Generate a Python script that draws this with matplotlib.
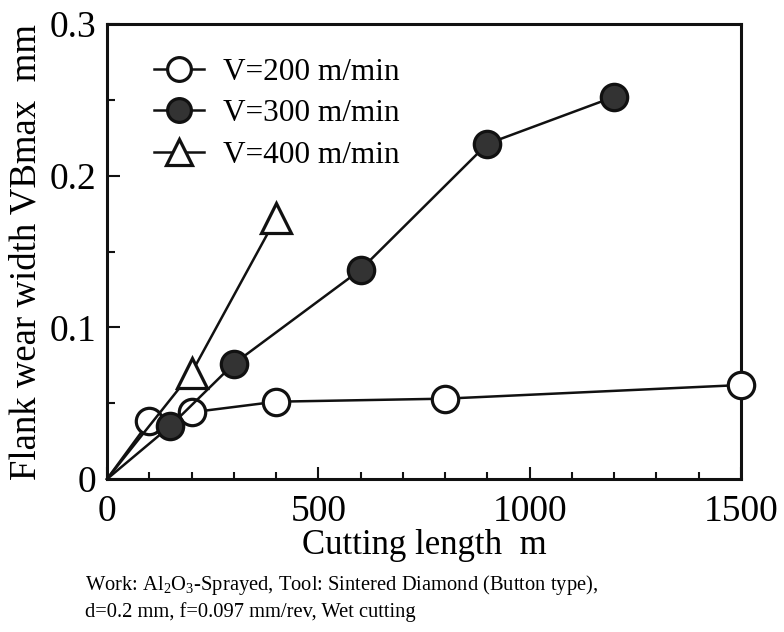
import matplotlib
matplotlib.use('Agg')
import matplotlib.pyplot as plt
from matplotlib.ticker import MultipleLocator, FuncFormatter

plt.rcParams['font.family'] = ['Liberation Serif', 'DejaVu Serif']
plt.rcParams['mathtext.fontset'] = 'custom'
plt.rcParams['mathtext.rm'] = 'Liberation Serif'

# Cutting length (m) and flank wear width VBmax (mm), origin included
x_200 = [0, 100, 200, 400, 800, 1500]
y_200 = [0, 0.038, 0.044, 0.051, 0.053, 0.062]
x_300 = [0, 150, 300, 600, 900, 1200]
y_300 = [0, 0.035, 0.076, 0.138, 0.221, 0.252]
x_400 = [0, 200, 400]
y_400 = [0, 0.070, 0.172]
labels = ['V=200 m/min', 'V=300 m/min', 'V=400 m/min']

fig = plt.figure(figsize=(7.84, 6.32), dpi=100)
ax = fig.add_axes([0.1365, 0.242, 0.8085, 0.72])

common = dict(color='#111111', linewidth=1.8, markersize=19, markeredgewidth=2.3,
              markeredgecolor='#111111', markevery=slice(1, None), clip_on=False)
ax.plot(x_200, y_200, marker='o', markerfacecolor='white', label=labels[0], zorder=3, **common)
ax.plot(x_300, y_300, marker='o', markerfacecolor='#333333', label=labels[1], zorder=3, **common)
ax.plot(x_400, y_400, marker='^', markerfacecolor='white', label=labels[2], zorder=3,
        **{**common, 'markersize': 21})

ax.set_xlim(0, 1500)
ax.set_ylim(0, 0.3)
ax.xaxis.set_major_locator(MultipleLocator(500))
ax.xaxis.set_minor_locator(MultipleLocator(100))
ax.yaxis.set_major_locator(MultipleLocator(0.1))
ax.yaxis.set_minor_locator(MultipleLocator(0.05))
ax.yaxis.set_major_formatter(FuncFormatter(lambda v, p: '0' if abs(v) < 1e-9 else f'{v:.1f}'))
ax.tick_params(which='both', direction='in', labelsize=27, width=1.5, color='#111111')
ax.tick_params(which='major', length=9, pad=8)
ax.tick_params(axis='x', which='major', pad=11)
ax.tick_params(which='minor', length=5)
ax.tick_params(axis='y', which='minor', length=6)
for s in ax.spines.values():
    s.set_linewidth(2.2)
    s.set_color('#111111')

ax.set_xlabel('Cutting length  m', fontsize=25, labelpad=0)
ax.set_ylabel('Flank wear width VBmax  mm', fontsize=26.5, labelpad=4)

ax.legend(loc='upper left', bbox_to_anchor=(0.03, 0.988), frameon=False, fontsize=22.5,
          handlelength=1.6, handletextpad=0.6, labelspacing=0.4, markerscale=0.9)

fig.text(0.108, 0.066, 'Work: Al$_2$O$_3$-Sprayed, Tool: Sintered Diamond (Button type),',
         fontsize=14.8, va='baseline', ha='left')
fig.text(0.108, 0.024, 'd=0.2 mm, f=0.097 mm/rev, Wet cutting',
         fontsize=14.8, va='baseline', ha='left')

fig.savefig('out.png', dpi=100)
